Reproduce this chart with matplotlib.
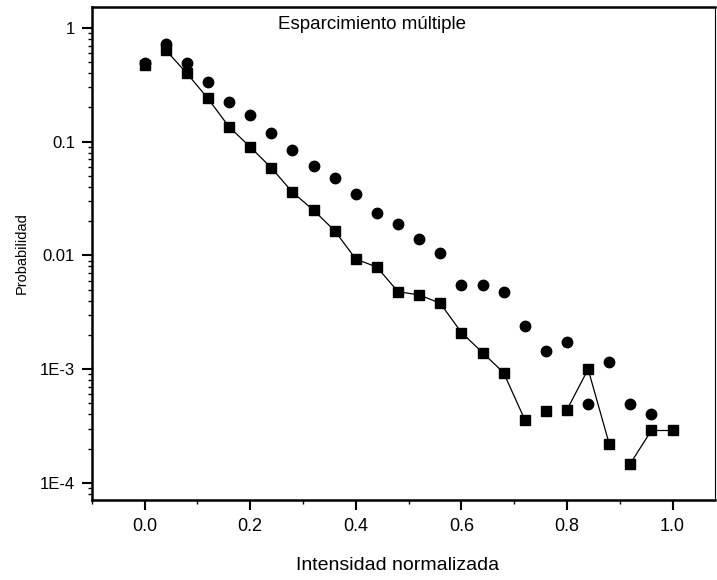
import matplotlib.pyplot as plt
import numpy as np
from matplotlib.ticker import FixedLocator, LogLocator, NullFormatter

plt.rcParams['font.family'] = ['Liberation Sans', 'DejaVu Sans']

# intensidad normalizada
x = [0.00, 0.04, 0.08, 0.12, 0.16, 0.20, 0.24, 0.28, 0.32, 0.36, 0.40,
     0.44, 0.48, 0.52, 0.56, 0.60, 0.64, 0.68, 0.72, 0.76, 0.80, 0.84,
     0.88, 0.92, 0.96, 1.00]

# squares
p_sq = [0.47, 0.64, 0.40, 0.24, 0.135, 0.090, 0.059, 0.036, 0.025, 0.0165,
        0.0093, 0.0079, 0.0048, 0.0045, 0.0038, 0.0021, 0.0014, 0.00093,
        0.00036, 0.00043, 0.00044, 0.0010, 0.00022, 0.000148, 0.00029,
        0.00029]

# circles (no line)
x_c = x[:25]
p_c = [0.49, 0.72, 0.49, 0.335, 0.224, 0.172, 0.12, 0.085, 0.061, 0.048,
       0.035, 0.0236, 0.019, 0.014, 0.0105, 0.0055, 0.0055, 0.0048,
       0.0024, 0.00145, 0.00174, 0.00049, 0.00115, 0.00049, 0.00040]

# segments of the square curve that are not drawn in the original
gaps = [0, 18, 19, 22]

fig = plt.figure(figsize=(7.17, 5.8), dpi=100)
ax = fig.add_axes([0.128, 0.138, 0.869, 0.850])

for i in range(len(x) - 1):
    if i in gaps:
        continue
    ax.plot(x[i:i + 2], p_sq[i:i + 2], color='black', lw=0.9)
ax.plot(x, p_sq, linestyle='none', marker='s', ms=7, mfc='black', mec='black')
ax.plot(x_c, p_c, linestyle='none', marker='o', ms=7.5, mfc='black', mec='black')

ax.set_yscale('log')
ax.set_xlim(-0.1, 1.08)
ax.set_ylim(10**-4.15, 10**0.185)

ax.xaxis.set_major_locator(FixedLocator([0.0, 0.2, 0.4, 0.6, 0.8, 1.0]))
ax.xaxis.set_minor_locator(FixedLocator([-0.1, 0.1, 0.3, 0.5, 0.7, 0.9]))
ax.set_xticklabels(['0.0', '0.2', '0.4', '0.6', '0.8', '1.0'])

ax.yaxis.set_major_locator(FixedLocator([1e-4, 1e-3, 1e-2, 1e-1, 1]))
ax.set_yticklabels(['1E-4', '1E-3', '0.01', '0.1', '1'])
ax.yaxis.set_minor_locator(LogLocator(base=10, subs=np.arange(2, 10)))
ax.yaxis.set_minor_formatter(NullFormatter())

ax.tick_params(which='major', direction='out', length=7, width=1.5)
ax.tick_params(which='minor', direction='out', length=3, width=1)
ax.tick_params(axis='x', pad=6, labelsize=13)
ax.tick_params(axis='y', pad=5, labelsize=12)

for s in ['left', 'bottom', 'top']:
    ax.spines[s].set_linewidth(1.8)
ax.spines['right'].set_linewidth(0.8)

ax.text(0.45, 0.982, 'Esparcimiento múltiple', transform=ax.transAxes,
        ha='center', va='top', fontsize=13.5)
ax.set_xlabel('Intensidad normalizada', fontsize=14)
ax.xaxis.set_label_coords(0.49, -0.115)
ax.set_ylabel('Probabilidad', fontsize=10.5, labelpad=8)

fig.savefig('out.png', dpi=100)
